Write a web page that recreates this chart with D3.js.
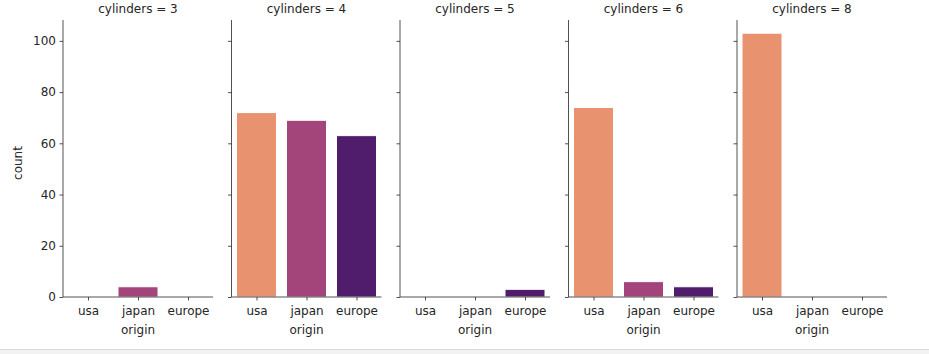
<!DOCTYPE html>
<html><head><meta charset="utf-8">
<script src="https://cdn.jsdelivr.net/npm/d3@7"></script>
<style>body{margin:0;background:#fff;}svg{display:block;}text{font-family:"DejaVu Sans",sans-serif;fill:#262626;}</style>
</head><body><svg id="c" width="929" height="354"></svg>
<script>
const cylinders = [3, 4, 5, 6, 8];
const origins = ["usa", "japan", "europe"];
const countsUsa = [0, 72, 0, 74, 103];
const countsJapan = [4, 69, 0, 6, 0];
const countsEurope = [0, 63, 3, 4, 0];
const yTicks = [0, 20, 40, 60, 80, 100];
const colors = ["#e8926f", "#a3457a", "#4f1d6b"];

const svg = d3.select("#c");
svg.append("rect").attr("x",0).attr("y",349).attr("width",929).attr("height",5).attr("fill","#f2f2f2");
svg.append("line").attr("x1",0).attr("x2",929).attr("y1",349.5).attr("y2",349.5).attr("stroke","#d9d9d9");

const series = [countsUsa, countsJapan, countsEurope];
const panelX = d3.scaleBand().domain(cylinders).range([63, 63 + 168.5*5]);
const pw = 150;
const y = d3.scaleLinear().domain([0, 103*1.05]).range([297, 20]);
const xc = d3.scalePoint().domain(origins).range([0, pw]).padding(0.5);
const bw = (pw/3)*0.8;

cylinders.forEach((cyl, i) => {
  const g = svg.append("g").attr("transform", `translate(${panelX(cyl)},0)`);
  origins.forEach((o, j) => {
    const v = series[j][i];
    if (v > 0) {
      g.append("rect").attr("x", xc(o) - bw/2).attr("width", bw)
        .attr("y", y(v)).attr("height", y(0) - y(v))
        .attr("fill", colors[j]).attr("stroke", "#fff").attr("stroke-width", 1);
    }
  });
  const ya = d3.axisLeft(y).tickValues(yTicks).tickSize(3.5).tickPadding(3.5)
    .tickFormat(i === 0 ? d3.format("d") : "");
  const yg = g.append("g").call(ya);
  yg.select(".domain").attr("d", `M0,${y.range()[1]}V${y(0)}`);
  const xa = d3.axisBottom(xc).tickSize(3.5).tickPadding(5.5);
  const xg = g.append("g").attr("transform", `translate(0,${y(0)})`).call(xa);
  xg.select(".domain").attr("d", `M0,0H${pw}`);
  [yg, xg].forEach(a => {
    a.attr("font-size", 12).attr("font-family", "DejaVu Sans");
    a.selectAll(".domain").attr("stroke", "#262626").attr("stroke-width", 0.8);
    a.selectAll(".tick line").attr("stroke", "#262626").attr("stroke-width", 0.8);
    a.selectAll("text").style("fill","#262626");
  });
  g.append("text").attr("x", pw/2).attr("y", 13).attr("text-anchor","middle")
    .attr("font-size", 12).text(`cylinders = ${cyl}`);
  g.append("text").attr("x", pw/2).attr("y", 334).attr("text-anchor","middle")
    .attr("font-size", 12).text("origin");
});
svg.append("text").attr("transform","translate(22,163) rotate(-90)").attr("text-anchor","middle")
  .attr("font-size", 12).text("count");
</script></body></html>
